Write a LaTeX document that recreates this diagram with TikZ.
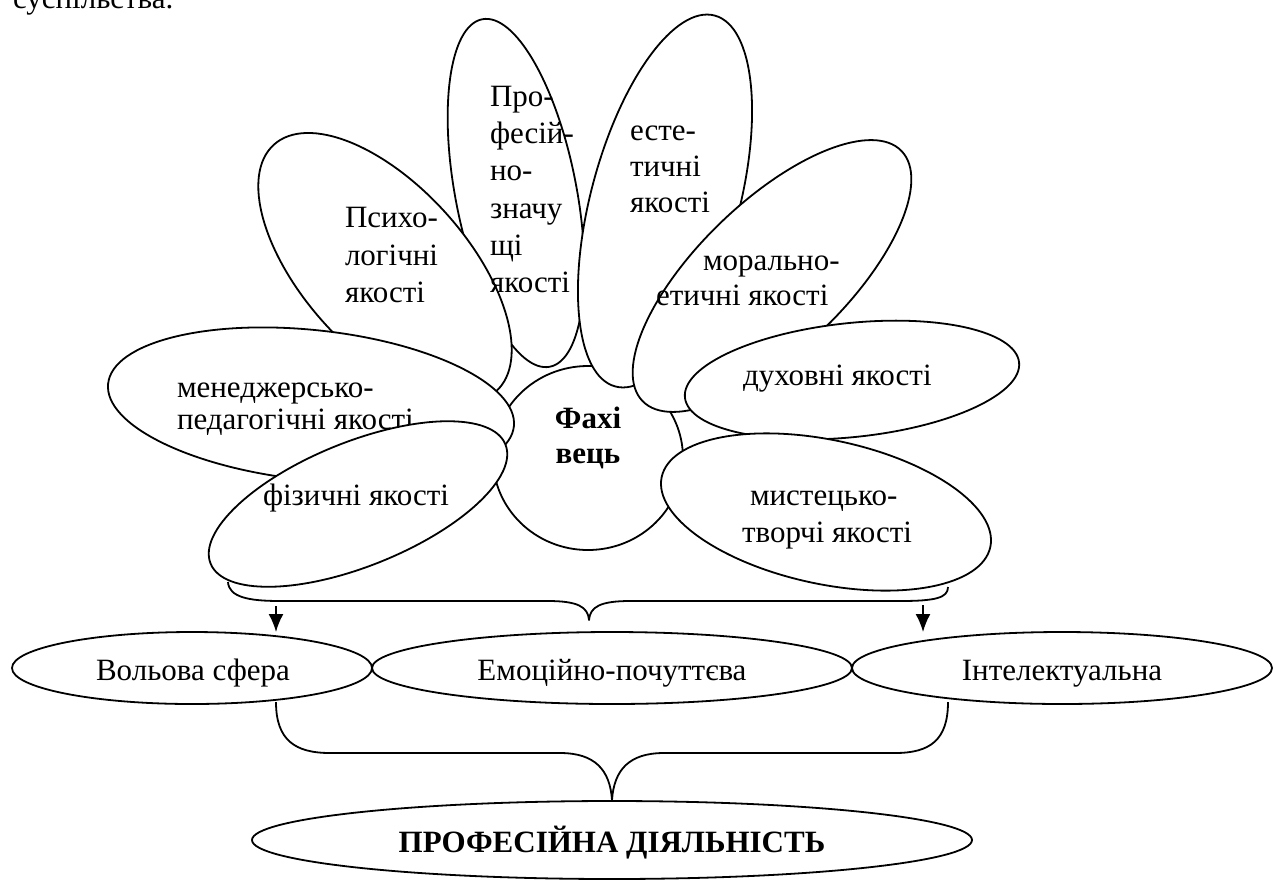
\documentclass[tikz,border=0pt]{standalone}
\usepackage{fontspec}
\setmainfont{Liberation Serif}
\usetikzlibrary{shapes.geometric,arrows.meta}
\begin{document}
\begin{tikzpicture}[x=1pt,y=-1pt,
  petal/.style={draw, ellipse, fill=white, line width=1.8pt, inner sep=0pt, outer sep=0pt},
  lbl/.style={inner sep=0pt, outer sep=0pt, font=\fontsize{31}{37}\selectfont, anchor=base west},
  lblc/.style={lbl, anchor=base},
  bld/.style={font=\fontsize{31}{37}\selectfont\bfseries},
  bracepath/.style={line width=1.8pt, line join=round},
  arr/.style={line width=1.8pt, -{Latex[length=18pt,width=15pt]}}]
\fill[white] (0,0) rectangle (1274,879);
\useasboundingbox (0,0) rectangle (1274,879);
\clip (0,0) rectangle (1274,879);

% clipped line of text at the very top
\node[lbl] (top) at (13,8) {суспільства.};

% flower
\node[petal, minimum width=190pt, minimum height=184pt] (ctr) at (588,458) {};
\node[petal, minimum width=354pt, minimum height=121pt, rotate=101] (prof) at (516,193) {};
\node[petal, minimum width=332pt, minimum height=164pt, rotate=132] (psy) at (385,268) {};
\node[petal, minimum width=384pt, minimum height=148pt, rotate=75] (est) at (665,201) {};
\node[petal, minimum width=360pt, minimum height=148pt, rotate=44] (mor) at (772,276) {};
\node[petal, minimum width=336pt, minimum height=114pt, rotate=6] (duh) at (852,380) {};
\node[petal, minimum width=336pt, minimum height=144pt, rotate=-12] (mys) at (826,512) {};
\node[petal, minimum width=408pt, minimum height=150pt, rotate=-6] (men) at (311,405) {};
\node[lbl] (menA) at (177,397) {менеджерсько-};
\node[lbl] (menB) at (177,429) {педагогічні якості};
\node[petal, minimum width=318pt, minimum height=124pt, rotate=22] (fiz) at (358,504) {};

% petal texts
\node[lbl] (psyA) at (345,227) {Психо-};
\node[lbl] (psyB) at (345,265) {логічні};
\node[lbl] (psyC) at (345,302) {якості};

\node[lbl] (profA) at (490,106) {Про-};
\node[lbl] (profB) at (490,143) {фесій-};
\node[lbl] (profC) at (490,180) {но-};
\node[lbl] (profD) at (490,218) {значу};
\node[lbl] (profE) at (490,255) {щі};
\node[lbl] (profF) at (490,292) {якості};

\node[lbl] (estA) at (630,140) {есте-};
\node[lbl] (estB) at (630,176) {тичні};
\node[lbl] (estC) at (630,212) {якості};

\node[lbl] (morA) at (703,270) {морально-};
\node[lbl] (morB) at (656,305) {етичні якості};

\node[lbl] (duhA) at (743,385) {духовні якості};

\node[lbl] (mysA) at (750,505) {мистецько-};
\node[lbl] (mysB) at (742,542) {творчі якості};

\node[lbl] (fizA) at (263,505) {фізичні якості};

\node[lblc, bld] (ctrA) at (588,428) {Фахі};
\node[lblc, bld] (ctrB) at (588,463) {вець};

% upper brace
\coordinate (bL) at (228,582);
\coordinate (bC) at (589,620);
\coordinate (bR) at (948,587);
\draw[bracepath] (bL) .. controls (229,597) and (248,601) .. (280,601)
  -- (548,601) .. controls (578,601) and (588,607) .. (bC)
  .. controls (590,607) and (600,601) .. (630,601)
  -- (900,601) .. controls (935,601) and (948,598) .. (bR);

% three spheres
\node[petal, minimum width=360pt, minimum height=72pt] (vol) at (192,668) {};
\node[petal, minimum width=480pt, minimum height=72pt] (emo) at (612,668) {};
\node[petal, minimum width=420pt, minimum height=72pt] (int) at (1062,668) {};
\node[lblc] (volT) at (193,680) {Вольова сфера};
\node[lblc] (emoT) at (612,680) {Емоційно-почуттєва};
\node[lblc] (intT) at (1062,680) {Інтелектуальна};

% arrows
\coordinate (aL) at (276,606);
\coordinate (aR) at (923,605);
\draw[arr] (aL) -- (aL |- vol.north);
\draw[arr] (aR) -- (aR |- int.north);

% lower brace
\coordinate (cL) at (276,702);
\coordinate (cC) at (612,800);
\coordinate (cR) at (948,702);
\draw[bracepath] (cL) .. controls (276,740) and (295,753) .. (330,753)
  -- (560,753) .. controls (595,753) and (610,770) .. (cC)
  .. controls (614,770) and (629,753) .. (664,753)
  -- (895,753) .. controls (930,753) and (948,740) .. (cR);

% final ellipse
\node[petal, minimum width=720pt, minimum height=78pt] (pd) at (612,840) {};
\node[lblc, bld] (pdT) at (612,852) {ПРОФЕСІЙНА ДІЯЛЬНІСТЬ};
\end{tikzpicture}
\end{document}
